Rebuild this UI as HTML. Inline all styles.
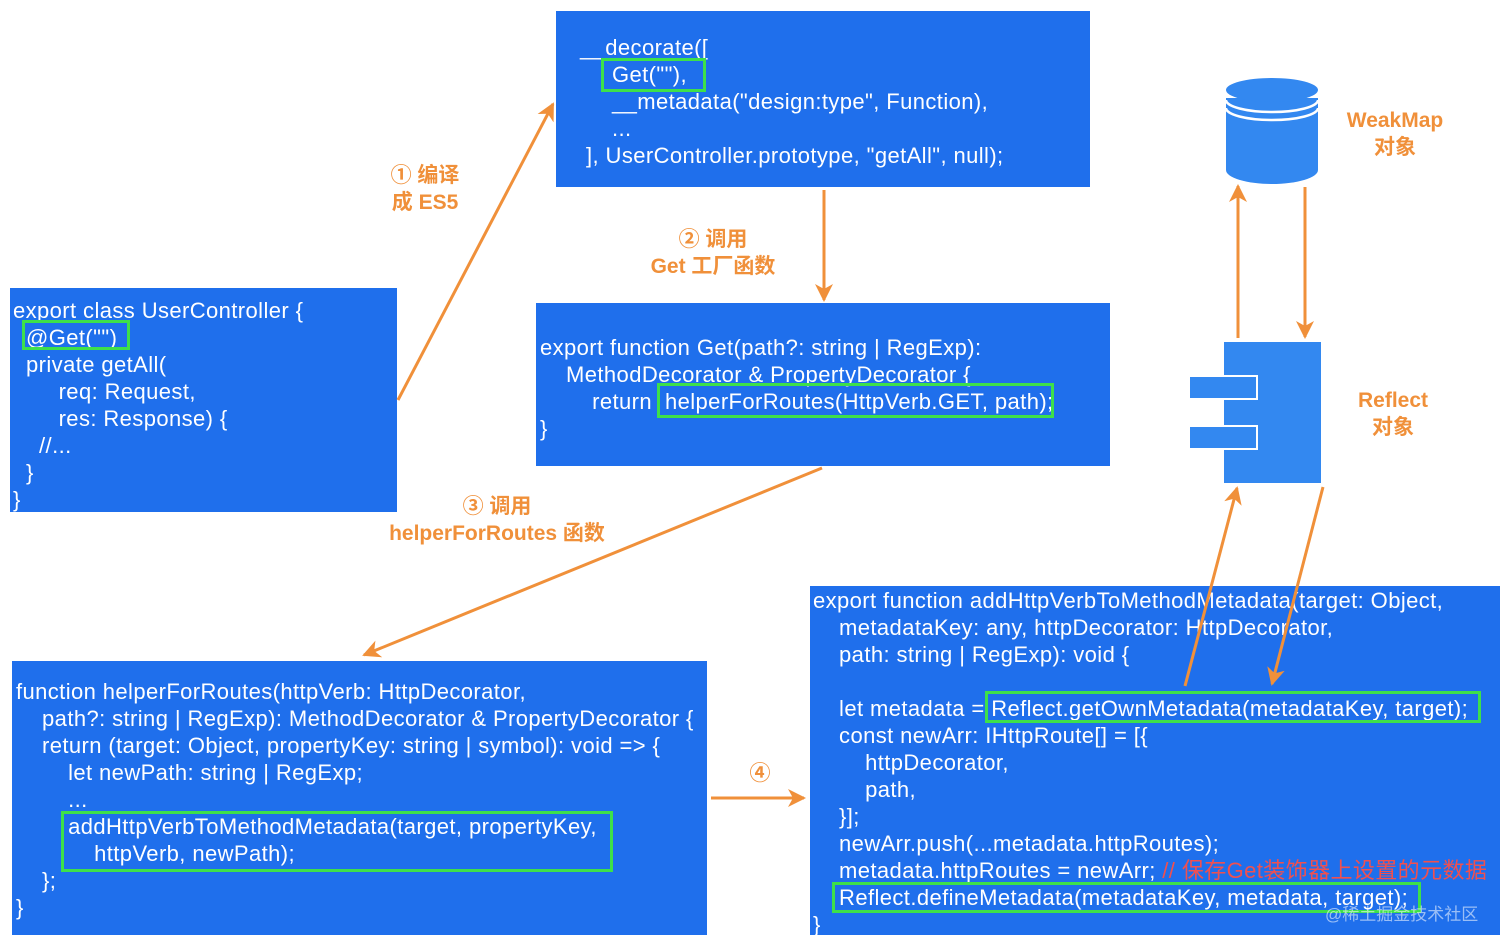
<!DOCTYPE html>
<html><head><meta charset="utf-8"><style>
body{margin:0;width:1512px;height:949px;background:#fff;position:relative;overflow:hidden;font-family:"Liberation Sans","Noto Sans CJK SC",sans-serif}
.b{position:absolute;background:#1f6fec;color:#fff;font-size:22px;line-height:27px;white-space:pre;letter-spacing:0.4px;box-sizing:border-box}
.t{position:absolute;color:#fff;font-size:22px;line-height:27px;white-space:pre;letter-spacing:0.4px}
.g{position:absolute;border:3px solid #3ee04a;box-sizing:border-box}
.l{position:absolute;color:#f0903a;font-weight:bold;font-size:21px;line-height:27px;text-align:center;white-space:nowrap;transform:translateX(-50%)}
</style></head><body>
<div class="b" style="left:556px;top:11px;width:534px;height:176px"></div>
<div class="t" style="left:580px;top:34px">__decorate([</div>
<div class="t" style="left:612px;top:61px">Get(""),</div>
<div class="t" style="left:612px;top:88px">__metadata("design:type", Function),</div>
<div class="t" style="left:612px;top:115px">...</div>
<div class="t" style="left:586px;top:142px">], UserController.prototype, "getAll", null);</div>
<div class="b" style="left:10px;top:288px;width:387px;height:224px;padding:9px 0 0 3px">export class UserController {
  @Get("")
  private getAll(
       req: Request,
       res: Response) {
    //...
  }
}</div>
<div class="b" style="left:536px;top:303px;width:574px;height:163px;padding:31px 0 0 4px">export function Get(path?: string | RegExp):
    MethodDecorator &amp; PropertyDecorator {
        return  helperForRoutes(HttpVerb.GET, path);
}</div>
<div class="b" style="left:12px;top:661px;width:695px;height:274px;padding:17px 0 0 4px">function helperForRoutes(httpVerb: HttpDecorator,
    path?: string | RegExp): MethodDecorator &amp; PropertyDecorator {
    return (target: Object, propertyKey: string | symbol): void =&gt; {
        let newPath: string | RegExp;
        ...
        addHttpVerbToMethodMetadata(target, propertyKey,
            httpVerb, newPath);
    };
}</div>
<div class="b" style="left:810px;top:586px;width:690px;height:349px;padding:1px 0 0 3px">export function addHttpVerbToMethodMetadata(target: Object,
    metadataKey: any, httpDecorator: HttpDecorator,
    path: string | RegExp): void {

    let metadata = Reflect.getOwnMetadata(metadataKey, target);
    const newArr: IHttpRoute[] = [{
        httpDecorator,
        path,
    }];
    newArr.push(...metadata.httpRoutes);
    metadata.httpRoutes = newArr; <span style="color:#f05050">// 保存Get装饰器上设置的元数据</span>
    Reflect.defineMetadata(metadataKey, metadata, target);
}</div>
<div class="g" style="left:601px;top:58px;width:105px;height:34px"></div>
<div class="g" style="left:22px;top:320px;width:108px;height:30px"></div>
<div class="g" style="left:657px;top:383px;width:397px;height:35px"></div>
<div class="g" style="left:61px;top:811px;width:552px;height:61px"></div>
<div class="g" style="left:985px;top:691px;width:496px;height:32px"></div>
<div class="g" style="left:832px;top:882px;width:589px;height:31px"></div>
<svg width="1512" height="949" style="position:absolute;left:0;top:0">
<defs><marker id="a" markerWidth="24" markerHeight="24" refX="16" refY="12" orient="auto" markerUnits="userSpaceOnUse"><path d="M0,3 L18,12 L0,21 L5,12z" fill="#f0903a"/></marker></defs>
<g stroke="#f0903a" stroke-width="3" fill="none" marker-end="url(#a)">
<line x1="398" y1="400" x2="553" y2="104"/>
<line x1="824" y1="190" x2="824" y2="300"/>
<line x1="822" y1="468" x2="364" y2="655"/>
<line x1="711" y1="798" x2="804" y2="798"/>
<line x1="1238" y1="338" x2="1238" y2="186"/>
<line x1="1305" y1="187" x2="1305" y2="337"/>
<line x1="1185" y1="686" x2="1237" y2="488"/>
<line x1="1323" y1="487" x2="1272" y2="684"/>
</g>
<path d="M1226,98 L1226,170 A46,14 0 0 0 1318,170 L1318,98 Z" fill="#3388f0"/>
<ellipse cx="1272" cy="90" rx="46" ry="12" fill="#3388f0"/>
<path d="M1226,100 A46,12 0 0 0 1318,100 M1226,108 A46,12 0 0 0 1318,108" stroke="#fff" stroke-width="2.5" fill="none"/>
<rect x="1224" y="342" width="97" height="141" fill="#3388f0"/>
<rect x="1189" y="376" width="68" height="23" fill="#3388f0" stroke="#fff" stroke-width="2"/>
<rect x="1189" y="426" width="68" height="23" fill="#3388f0" stroke="#fff" stroke-width="2"/>
</svg>
<div class="l" style="left:425px;top:162px">① 编译<br>成 ES5</div>
<div class="l" style="left:713px;top:226px">② 调用<br>Get 工厂函数</div>
<div class="l" style="left:497px;top:493px">③ 调用<br>helperForRoutes 函数</div>
<div class="l" style="left:760px;top:760px">④</div>
<div class="l" style="left:1395px;top:107px">WeakMap<br>对象</div>
<div class="l" style="left:1393px;top:387px">Reflect<br>对象</div>
<div style="position:absolute;left:1325px;top:900px;color:rgba(255,255,255,0.55);font-size:17px">@稀土掘金技术社区</div>
</body></html>
